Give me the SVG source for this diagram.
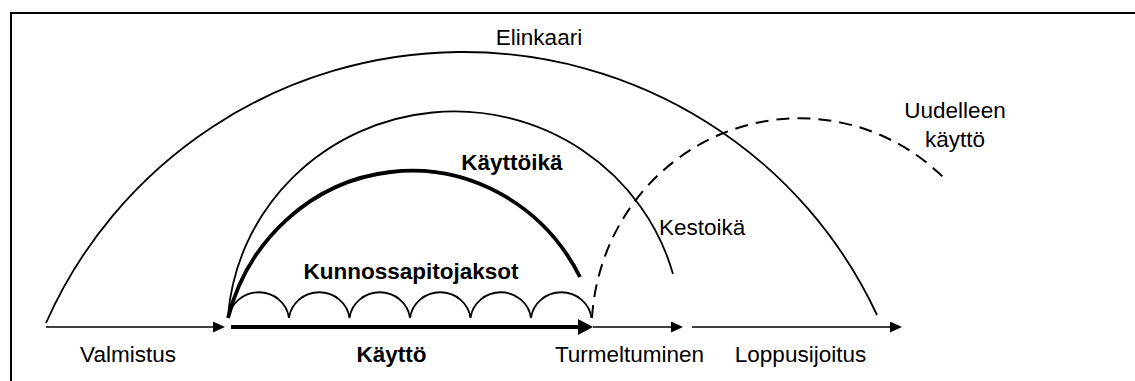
<svg xmlns="http://www.w3.org/2000/svg" width="1135" height="381" viewBox="0 0 1135 381">
  <style>
    .t { font-family: "Liberation Sans", Arial, sans-serif; font-size: 22.5px; fill: #000; }
    .b { font-weight: bold; }
    .arc { fill: none; stroke: #000; stroke-width: 1.8; }
    .thick { fill: none; stroke: #000; stroke-width: 3.8; }
    .dash { fill: none; stroke: #000; stroke-width: 2; stroke-dasharray: 13 8; }
    .ln { stroke: #000; stroke-width: 1.3; fill: none; }
    .lnb { stroke: #000; stroke-width: 4; fill: none; }
  </style>
  <defs>
    <marker id="ah" markerUnits="userSpaceOnUse" markerWidth="13" markerHeight="12" refX="0" refY="5.5" orient="auto">
      <path d="M0,0 L12,5.5 L0,11 z" fill="#000"/>
    </marker>
    <marker id="ahb" markerUnits="userSpaceOnUse" markerWidth="16" markerHeight="17" refX="0" refY="8" orient="auto">
      <path d="M0,0 L15,8 L0,16 z" fill="#000"/>
    </marker>
  </defs>
  <rect width="1135" height="381" fill="#fff"/>
  <path d="M11 381 V13 H1135" fill="none" stroke="#000" stroke-width="2"/>

  <g id="elinkaari">
    <path class="arc" d="M46 323 A456 454 0 0 1 877 315"/>
    <text class="t" x="539" y="45" text-anchor="middle">Elinkaari</text>
  </g>
  <g id="kestoika">
    <path class="arc" d="M228 316 A227 222 0 0 1 673 274"/>
    <text class="t" x="659" y="235">Kestoikä</text>
  </g>
  <g id="kayttoika">
    <path class="thick" d="M228 318 A190 198 0 0 1 580 277"/>
    <text class="t b" x="512" y="170" text-anchor="middle">Käyttöikä</text>
  </g>
  <g id="uudelleenkaytto">
    <path class="dash" d="M592 318 A208 213 0 0 1 943 177"/>
    <text class="t" x="955" y="118" text-anchor="middle">Uudelleen</text>
    <text class="t" x="955" y="147" text-anchor="middle">käyttö</text>
  </g>
  <g id="kunnossapitojaksot">
    <path class="arc" d="M228.5 318 a30.5 29.5 0 0 1 60.5 0 a30.5 29.5 0 0 1 60.5 0 a30.5 29.5 0 0 1 60.5 0 a30.5 29.5 0 0 1 60.5 0 a30.5 29.5 0 0 1 60.5 0 a30.5 29.5 0 0 1 60.5 0"/>
    <text class="t b" x="411" y="279" text-anchor="middle">Kunnossapitojaksot</text>
  </g>
  <g id="valmistus">
    <text class="t" x="128" y="362" text-anchor="middle">Valmistus</text>
  </g>
  <g id="kaytto">
    <text class="t b" x="391.5" y="362" text-anchor="middle">Käyttö</text>
  </g>
  <g id="turmeltuminen">
    <text class="t" x="629.5" y="362" text-anchor="middle">Turmeltuminen</text>
  </g>
  <g id="loppusijoitus">
    <text class="t" x="800.5" y="362" text-anchor="middle">Loppusijoitus</text>
  </g>

  <g id="connectors">
    <line class="ln" x1="46" y1="327" x2="213" y2="327" marker-end="url(#ah)"/>
    <line class="lnb" x1="231" y1="327" x2="578" y2="327" marker-end="url(#ahb)"/>
    <line class="ln" x1="593" y1="327" x2="671" y2="327" marker-end="url(#ah)"/>
    <line class="ln" x1="692" y1="327" x2="890" y2="327" marker-end="url(#ah)"/>
  </g>
</svg>
